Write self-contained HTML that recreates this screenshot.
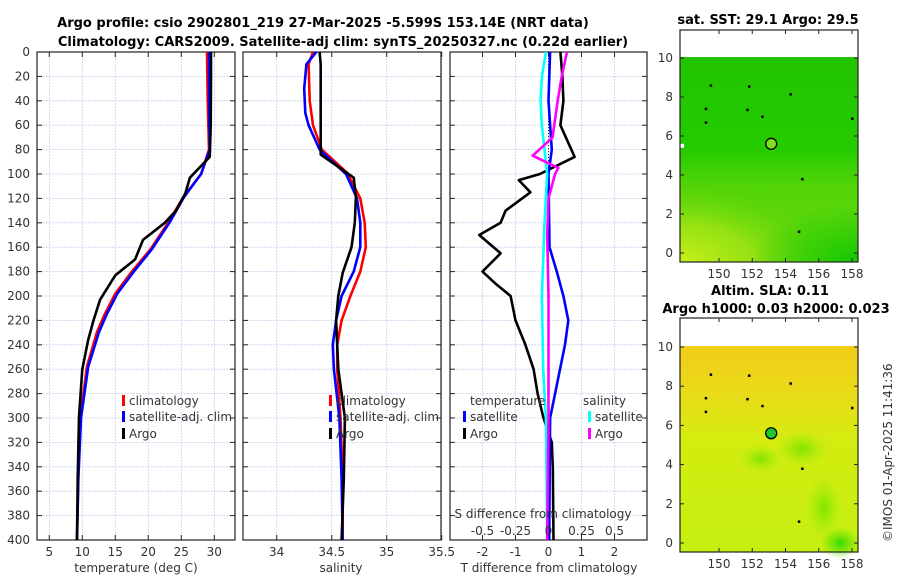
<!DOCTYPE html>
<html><head><meta charset="utf-8"><style>
body{margin:0;background:#fff;}
svg{display:block;font-family:"DejaVu Sans","Liberation Sans",sans-serif;}
.t{font-size:12px;fill:#333;}
.b{font-size:13px;font-weight:bold;fill:#000;}
</style></head><body>
<svg id="c" width="900" height="580" viewBox="0 0 900 580">
<text class="b" x="323" y="27" text-anchor="middle">Argo profile: csio 2902801_219 27-Mar-2025 -5.599S 153.14E (NRT data)</text>
<text class="b" x="343" y="46" text-anchor="middle">Climatology: CARS2009. Satellite-adj clim: synTS_20250327.nc (0.22d earlier)</text>
<text class="b" x="768" y="24" text-anchor="middle">sat. SST: 29.1 Argo: 29.5</text>
<text class="b" x="770" y="295" text-anchor="middle">Altim. SLA: 0.11</text>
<text class="b" x="776" y="313" text-anchor="middle">Argo h1000: 0.03 h2000: 0.023</text>
<text class="t" x="0" y="0" transform="translate(892,542) rotate(-90)">©IMOS 01-Apr-2025 11:41:36</text>
<g id="g"></g>
</svg>
<script>
// depth grid
const depthTicks=[0,20,40,60,80,100,120,140,160,180,200,220,240,260,280,300,320,340,360,380,400];
// temperature panel
const tArgoD=[0,20,60,80,86,103,116,130,140,154,170,183,203,220,236,260,299,350,400];
const tArgoV=[29.5,29.5,29.45,29.35,29.3,26.3,25.6,24.2,22.5,19.2,18,15,12.7,11.7,10.9,10,9.5,9.3,9.2];
const tClimD=[0,40,80,100,119,140,162,180,198,215,230,258,300,350,400];
const tClimV=[28.9,29.0,29.2,28,25.3,23,20.3,17.5,15,13.4,12.2,10.7,9.7,9.4,9.2];
const tSatD=[0,40,80,100,119,140,162,180,198,215,230,258,300,350,400];
const tSatV=[29.2,29.2,29.3,28,25.4,23.2,20.5,17.8,15.3,13.7,12.5,10.9,9.8,9.4,9.2];
const tTicks=[5,10,15,20,25,30];
// salinity panel
const sArgoD=[0,10,84,103,119,140,160,181,200,220,260,300,350,400];
const sArgoV=[34.39,34.4,34.4,34.7,34.72,34.71,34.68,34.6,34.56,34.54,34.56,34.62,34.61,34.59];
const sClimD=[0,10,40,60,80,99,120,140,160,180,200,220,240,260,300,350,400];
const sClimV=[34.33,34.29,34.3,34.33,34.41,34.64,34.76,34.8,34.81,34.76,34.67,34.59,34.55,34.55,34.58,34.6,34.6];
const sSatD=[0,10,30,50,60,80,100,120,140,160,180,200,220,240,260,300,350,400];
const sSatV=[34.36,34.27,34.25,34.26,34.29,34.39,34.63,34.73,34.76,34.76,34.7,34.59,34.54,34.51,34.52,34.57,34.59,34.6];
const sTicks=[34,34.5,35,35.5];
// difference panel
const dTArgoD=[0,20,40,60,86,100,105,115,130,140,150,165,180,190,200,220,240,260,280,300,320,340,400];
const dTArgoV=[0.36,0.42,0.45,0.36,0.79,-0.26,-0.9,-0.55,-1.3,-1.45,-2.1,-1.45,-2.0,-1.6,-1.15,-1.0,-0.7,-0.45,-0.33,-0.15,0.1,0.13,0.15];
const dTSatD=[0,40,80,100,160,180,200,220,240,260,280,300,400];
const dTSatV=[0.05,0.0,0.1,0.0,0.03,0.25,0.45,0.6,0.5,0.35,0.2,0.05,0.02];
const dSArgoD=[0,20,40,70,85,95,100,120,150,200,300,400];
const dSArgoV=[0.14,0.1,0.07,0.03,-0.12,0.075,0.05,0.0,-0.01,0.0,0.0,-0.01];
const dSSatD=[0,20,40,60,80,100,140,200,260,300,400];
const dSSatV=[-0.02,-0.05,-0.06,-0.05,-0.03,-0.01,-0.03,-0.05,-0.04,-0.02,-0.01];
const dTTicks=[-2,-1,0,1,2];
const dSTicks=[-0.5,-0.25,0,0.25,0.5];
const dSTickLabels=['-0.5','-0.25','0','0.25','0.5'];
// maps
const mapXTicks=[150,152,154,156,158];
const mapYTicks=[0,2,4,6,8,10];
const argoLon=[153.14], argoLat=[5.6];

const NS='http://www.w3.org/2000/svg', G=document.getElementById('g');
function el(t,a,p){const e=document.createElementNS(NS,t);for(const k in a)e.setAttribute(k,a[k]);(p||G).appendChild(e);return e;}
const Y0=52,Y1=540,yD=d=>Y0+d*(Y1-Y0)/400;
function lin(v0,p0,v1,p1){return v=>p0+(v-v0)*(p1-p0)/(v1-v0);}

function panel(x0,x1,sx,ticks,labels,showY,name){
  const fr=el('g',{});
  
  
  depthTicks.forEach(d=>{const y=yD(d);
    const l=el('line',{x1:x0,x2:x1,y1:y,y2:y,stroke:'#c8d0ec','stroke-width':0.8,'stroke-dasharray':'2,1'},fr);
    
    el('line',{x1:x0,x2:x0+5,y1:y,y2:y,stroke:'#222'},fr);el('line',{x1:x1-5,x2:x1,y1:y,y2:y,stroke:'#222'},fr);
    if(showY){const t=el('text',{x:x0-7,y:y+4,'text-anchor':'end',class:'t'},fr);t.textContent=d;
      }
  });
  ticks.forEach((v,i)=>{const x=sx(v);
    const l=el('line',{x1:x,x2:x,y1:Y0,y2:Y1,stroke:'#c8d0ec','stroke-width':0.8,'stroke-dasharray':'2,1'},fr);
    
    el('line',{x1:x,x2:x,y1:Y1-5,y2:Y1,stroke:'#222'},fr);el('line',{x1:x,x2:x,y1:Y0,y2:Y0+5,stroke:'#222'},fr);
    if(labels){const t=el('text',{x:x,y:556,'text-anchor':'middle',class:'t'},fr);t.textContent=labels[i];
      }
  });
  const r=el('rect',{x:x0,y:Y0,width:x1-x0,height:Y1-Y0,fill:'none',stroke:'#222','stroke-width':1.2},fr);
  
}
function line(D,V,sx,col,name,w){
  const p=el('polyline',{points:D.map((d,i)=>sx(V[i]).toFixed(1)+','+yD(d).toFixed(1)).join(' '),fill:'none',stroke:col,'stroke-width':w||2.6,'stroke-linejoin':'round'});
  
}
function txt(x,y,s,name,anchor){const t=el('text',{x:x,y:y,class:'t','text-anchor':anchor||'start'});t.textContent=s;
  return t;}
function leg(x,y,col,s,name){
  const r=el('rect',{x:x,y:y-10,width:3,height:11,fill:col});
  txt(x+7,y,s,name);
}

// panel 1
const sxT=lin(5,49.3,30,214.3);
panel(37,235,sxT,tTicks,tTicks.map(String),true,'temperature-panel');
line(tClimD,tClimV,sxT,'#f00','climatology-temperature-line');
line(tSatD,tSatV,sxT,'#00f','satellite-temperature-line');
line(tArgoD,tArgoV,sxT,'#000','argo-temperature-line');
txt(136,572,'temperature (deg C)','temperature-axis-title','middle');
leg(122,405,'#f00','climatology','legend-climatology');
leg(122,421,'#00f','satellite-adj. clim','legend-satellite');
leg(122,438,'#000','Argo','legend-argo');

// panel 2
const sxS=lin(34,276.7,35,386.7);
panel(243,441,sxS,sTicks,['34','34.5','35','35.5'],false,'salinity-panel');
line(sClimD,sClimV,sxS,'#f00','climatology-salinity-line');
line(sSatD,sSatV,sxS,'#00f','satellite-salinity-line');
line(sArgoD,sArgoV,sxS,'#000','argo-salinity-line');
txt(341,572,'salinity','salinity-axis-title','middle');
leg(329,405,'#f00','climatology','legend-s-climatology');
leg(329,421,'#00f','satellite-adj. clim','legend-s-satellite');
leg(329,438,'#000','Argo','legend-s-argo');

// panel 3
const sxD=lin(0,548.5,1,581.5);
const sxDS=v=>sxD(v*4);
panel(450,647,sxD,dTTicks,dTTicks.map(String),false,'difference-panel');
const zl=el('line',{x1:sxD(0),x2:sxD(0),y1:Y0,y2:Y1,stroke:'#000','stroke-width':0.8,'stroke-dasharray':'1,2'});

line(dTArgoD,dTArgoV,sxD,'#000','argo-t-diff-line');
line(dTSatD,dTSatV,sxD,'#00f','satellite-t-diff-line');
line(dSSatD,dSSatV,sxDS,'#0ff','satellite-s-diff-line');
line(dSArgoD,dSArgoV,sxDS,'#f0f','argo-s-diff-line');
txt(549,572,'T difference from climatology','t-diff-axis-title','middle');
txt(543,518,'S difference from climatology','s-diff-axis-title','middle');
dSTicks.forEach((v,i)=>txt(sxDS(v),535,dSTickLabels[i],'s-diff-tick-label','middle'));
txt(470,405,'temperature','legend-temperature-heading');
txt(583,405,'salinity','legend-salinity-heading');
leg(463,421,'#00f','satellite','legend-t-satellite');
leg(463,438,'#000','Argo','legend-t-argo');
leg(588,421,'#0ff','satellite','legend-sal-satellite');
leg(588,438,'#f0f','Argo','legend-sal-argo');

// maps
function map(top,bot,name,fillFn){
  const mx=lin(150,719,158,852), my=lin(0,top===30?253:543,10,top===30?58:347);
  const g=el('g',{});
  fillFn(g,mx,my);
  [[151.7,7.35],[154.3,8.15],[149.2,7.4],[149.2,6.7],[152.6,7.0],[155,3.8],[154.8,1.1],[158,6.9],[149.5,8.6],[151.8,8.55]].forEach(p=>{
    el('rect',{x:mx(p[0])-1,y:my(p[1])-1,width:2.5,height:2.5,fill:'#000'},g);});
  mapYTicks.forEach(v=>{const y=my(v);el('line',{x1:680,x2:684,y1:y,y2:y,stroke:'#222'},g);el('line',{x1:854,x2:858,y1:y,y2:y,stroke:'#222'},g);
    const t=el('text',{x:673,y:y+4,'text-anchor':'end',class:'t'},g);t.textContent=v;});
  mapXTicks.forEach(v=>{const x=mx(v);el('line',{x1:x,x2:x,y1:bot-4,y2:bot,stroke:'#222'},g);el('line',{x1:x,x2:x,y1:top,y2:top+4,stroke:'#222'},g);
    const t=el('text',{x:x,y:bot+16,'text-anchor':'middle',class:'t'},g);t.textContent=v;});
  const c=el('circle',{cx:mx(argoLon[0]),cy:my(argoLat[0]),r:5.5,fill:top===30?'#7ee020':'#20c830',stroke:'#000','stroke-width':1.3},g);
  
  const r=el('rect',{x:680,y:top,width:178,height:bot-top,fill:'none',stroke:'#222','stroke-width':1.2},g);
  
}
const defs=el('defs',{});
defs.innerHTML='<linearGradient id="g1" x1="0" y1="0" x2="0" y2="1"><stop offset="0" stop-color="#22c400"/><stop offset="0.45" stop-color="#24cc00"/><stop offset="0.62" stop-color="#50d408"/><stop offset="1" stop-color="#70d810"/></linearGradient>'+
'<radialGradient id="r1" cx="0" cy="1" r="0.9"><stop offset="0" stop-color="#c8f018"/><stop offset="0.45" stop-color="#a0e414" stop-opacity="0.8"/><stop offset="1" stop-color="#40d000" stop-opacity="0"/></radialGradient>'+
'<radialGradient id="r2" cx="1" cy="1" r="0.6"><stop offset="0" stop-color="#10c800"/><stop offset="1" stop-color="#10c800" stop-opacity="0"/></radialGradient>'+
'<linearGradient id="g2" x1="0" y1="0" x2="0" y2="1"><stop offset="0" stop-color="#f2cc18"/><stop offset="0.25" stop-color="#e8dc18"/><stop offset="0.45" stop-color="#d4ec10"/><stop offset="1" stop-color="#c4f010"/></linearGradient>'+
'<radialGradient id="r3"><stop offset="0" stop-color="#80e400"/><stop offset="1" stop-color="#a0ec08" stop-opacity="0"/></radialGradient>'+
'<radialGradient id="r4"><stop offset="0" stop-color="#30dc00"/><stop offset="1" stop-color="#60e000" stop-opacity="0"/></radialGradient>';
map(30,262,'sst-map',(g,mx,my)=>{
  el('rect',{x:680,y:my(10.05),width:178,height:262-my(10.05),fill:'url(#g1)'},g);
  el('rect',{x:680,y:my(4.6),width:178,height:262-my(4.6),fill:'url(#r1)'},g);
  el('rect',{x:680,y:my(4.6),width:178,height:262-my(4.6),fill:'url(#r2)'},g);
  el('rect',{x:680,y:my(5.6),width:4,height:4,fill:'#fff'},g);
});
map(318,552,'sla-map',(g,mx,my)=>{
  el('rect',{x:680,y:my(10.05),width:178,height:552-my(10.05),fill:'url(#g2)'},g);
  el('ellipse',{cx:mx(155),cy:my(4.8),rx:26,ry:18,fill:'url(#r3)'},g);
  el('ellipse',{cx:mx(152.5),cy:my(4.3),rx:22,ry:14,fill:'url(#r3)'},g);
  el('ellipse',{cx:mx(156.3),cy:my(1.8),rx:18,ry:32,fill:'url(#r3)'},g);
  el('ellipse',{cx:mx(157.3),cy:my(0),rx:20,ry:16,fill:'url(#r4)'},g);
});
</script>
</body></html>
